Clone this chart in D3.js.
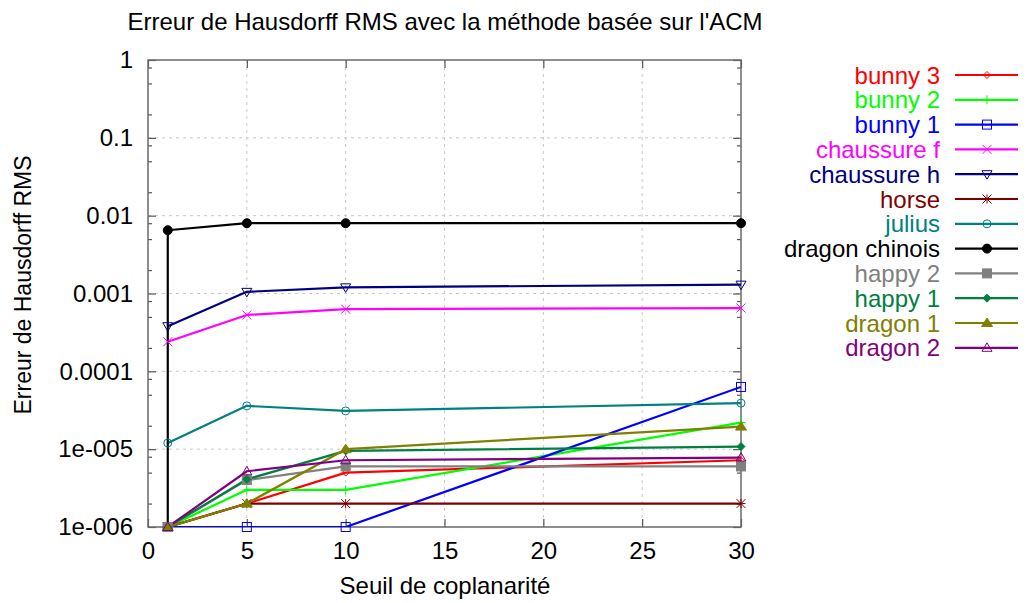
<!DOCTYPE html>
<html>
<head>
<meta charset="utf-8">
<script src="https://cdn.jsdelivr.net/npm/d3@7/dist/d3.min.js"></script>
<style>
  html, body { margin: 0; padding: 0; background: #fff; }
  svg { display: block; font-family: "Liberation Sans", Arial, sans-serif; }
</style>
</head>
<body>
<svg id="chart" width="1027" height="603"></svg>
<script>
// ---- Data ----
const titleText = "Erreur de Hausdorff RMS avec la méthode basée sur l'ACM";
const xLabelText = "Seuil de coplanarité";
const yLabelText = "Erreur de Hausdorff RMS";

const xTicks = [0, 5, 10, 15, 20, 25, 30];
const yTicks = [1, 0.1, 0.01, 0.001, 0.0001, 0.00001, 0.000001];
const yTickLabels = ["1", "0.1", "0.01", "0.001", "0.0001", "1e-005", "1e-006"];

const seuils = [1, 5, 10, 30];
const seuilsDragonChinois = [1, 1, 5, 10, 30];

const seriesNames = ["bunny 3", "bunny 2", "bunny 1", "chaussure f", "chaussure h", "horse",
  "julius", "dragon chinois", "happy 2", "happy 1", "dragon 1", "dragon 2"];

const bunny3 = [1e-6, 2e-6, 5e-6, 7.2e-6];
const bunny2 = [1e-6, 3e-6, 3e-6, 2.2e-5];
const bunny1 = [1e-6, 1e-6, 1e-6, 6.3e-5];
const chaussureF = [2.4e-4, 5.3e-4, 6.3e-4, 6.5e-4];
const chaussureH = [3.8e-4, 1.05e-3, 1.2e-3, 1.3e-3];
const horse = [1e-6, 2e-6, 2e-6, 2e-6];
const julius = [1.2e-5, 3.6e-5, 3.1e-5, 3.9e-5];
const dragonChinois = [1e-6, 6.5e-3, 8e-3, 8e-3, 8e-3];
const happy2 = [1e-6, 4e-6, 6e-6, 6e-6];
const happy1 = [1e-6, 4.1e-6, 9.5e-6, 1.08e-5];
const dragon1 = [1e-6, 2e-6, 1e-5, 1.95e-5];
const dragon2 = [1e-6, 5.2e-6, 7.2e-6, 7.8e-6];

const seriesValues = [bunny3, bunny2, bunny1, chaussureF, chaussureH, horse,
  julius, dragonChinois, happy2, happy1, dragon1, dragon2];
const seriesX = [seuils, seuils, seuils, seuils, seuils, seuils,
  seuils, seuilsDragonChinois, seuils, seuils, seuils, seuils];

// ---- Styles ----
const colors = ["#ff0000", "#00ff00", "#0000ff", "#ff00ff", "#000080", "#800000",
  "#008080", "#000000", "#808080", "#008040", "#808000", "#800080"];
const markers = ["diamond", "plus", "square", "cross", "triDown", "star",
  "circle", "circleFilled", "squareFilled", "diamondFilled", "triUpFilled", "triUp"];

const FONT = 24;
const m = { left: 148, right: 741, top: 60, bottom: 527 };

const svg = d3.select("#chart");

const x = d3.scaleLinear().domain([0, 30]).range([m.left, m.right]);
const y = d3.scaleLog().domain([1e-6, 1]).range([m.bottom, m.top]);

svg.append("defs").append("clipPath").attr("id", "clip")
  .append("rect").attr("x", m.left).attr("y", m.top)
  .attr("width", m.right - m.left).attr("height", m.bottom - m.top);

// grid
const grid = svg.append("g");
xTicks.slice(1, -1).forEach(t => {
  grid.append("line").attr("x1", x(t)).attr("x2", x(t)).attr("y1", m.top).attr("y2", m.bottom)
    .attr("stroke", "#c8c8c8").attr("stroke-width", 1).attr("stroke-dasharray", "3,4");
});
yTicks.slice(1, -1).forEach(t => {
  grid.append("line").attr("x1", m.left).attr("x2", m.right).attr("y1", y(t)).attr("y2", y(t))
    .attr("stroke", "#c8c8c8").attr("stroke-width", 1).attr("stroke-dasharray", "3,4");
});

// axes
const tickColor = "#555";
svg.append("g").attr("transform", `translate(0,${m.bottom})`)
  .call(d3.axisBottom(x).tickValues(xTicks).tickSize(-8).tickPadding(15).tickFormat(d3.format("d")));
svg.append("g").attr("transform", `translate(0,${m.top})`)
  .call(d3.axisTop(x).tickValues(xTicks).tickSize(-8).tickFormat(""));
svg.append("g").attr("transform", `translate(${m.left},0)`)
  .call(d3.axisLeft(y).tickValues(yTicks).tickSize(-8).tickPadding(15)
    .tickFormat((d, i) => yTickLabels[i]));
svg.append("g").attr("transform", `translate(${m.right},0)`)
  .call(d3.axisRight(y).tickValues(yTicks).tickSize(-8).tickFormat(""));

// minor ticks (2, 5, 8 per decade)
const minor = [];
for (let e = -6; e < 0; e++) [2, 5, 8].forEach(k => minor.push(k * Math.pow(10, e)));
svg.append("g").attr("transform", `translate(${m.left},0)`)
  .call(d3.axisLeft(y).tickValues(minor).tickSize(-4).tickFormat(""));
svg.append("g").attr("transform", `translate(${m.right},0)`)
  .call(d3.axisRight(y).tickValues(minor).tickSize(-4).tickFormat(""));

svg.selectAll(".domain").remove();
svg.selectAll(".tick line").attr("stroke", tickColor).attr("stroke-width", 1.2);
svg.selectAll(".tick text").attr("font-size", FONT).attr("fill", "#000")
  .attr("font-family", "'Liberation Sans', Arial, sans-serif");

// frame
svg.append("rect").attr("x", m.left).attr("y", m.top)
  .attr("width", m.right - m.left).attr("height", m.bottom - m.top)
  .attr("fill", "none").attr("stroke", "#6a6a6a").attr("stroke-width", 1.5);

function drawMarker(g, type, cx, cy, color) {
  const s = 4.5;
  switch (type) {
    case "diamond":
      g.append("path").attr("d", `M${cx},${cy - 3.5}L${cx + 3.5},${cy}L${cx},${cy + 3.5}L${cx - 3.5},${cy}Z`)
        .attr("fill", "none").attr("stroke", color).attr("stroke-width", 1); break;
    case "diamondFilled":
      g.append("path").attr("d", `M${cx},${cy - 4}L${cx + 4},${cy}L${cx},${cy + 4}L${cx - 4},${cy}Z`)
        .attr("fill", color).attr("stroke", color).attr("stroke-width", 1); break;
    case "plus":
      g.append("path").attr("d", `M${cx - s},${cy}H${cx + s}M${cx},${cy - s}V${cy + s}`)
        .attr("stroke", color).attr("stroke-width", 1); break;
    case "cross":
      g.append("path").attr("d", `M${cx - s},${cy - s}L${cx + s},${cy + s}M${cx - s},${cy + s}L${cx + s},${cy - s}`)
        .attr("stroke", color).attr("stroke-width", 1); break;
    case "star":
      g.append("path").attr("d", `M${cx - s},${cy - s}L${cx + s},${cy + s}M${cx - s},${cy + s}L${cx + s},${cy - s}M${cx - s},${cy}H${cx + s}M${cx},${cy - s}V${cy + s}`)
        .attr("stroke", color).attr("stroke-width", 1); break;
    case "square":
      g.append("rect").attr("x", cx - s).attr("y", cy - s).attr("width", 2 * s).attr("height", 2 * s)
        .attr("fill", "none").attr("stroke", color).attr("stroke-width", 1); break;
    case "squareFilled":
      g.append("rect").attr("x", cx - s).attr("y", cy - s).attr("width", 2 * s).attr("height", 2 * s)
        .attr("fill", color).attr("stroke", color).attr("stroke-width", 1); break;
    case "circle":
      g.append("circle").attr("cx", cx).attr("cy", cy).attr("r", 4)
        .attr("fill", "none").attr("stroke", color).attr("stroke-width", 1); break;
    case "circleFilled":
      g.append("circle").attr("cx", cx).attr("cy", cy).attr("r", 4.5)
        .attr("fill", color).attr("stroke", color).attr("stroke-width", 1); break;
    case "triUp":
      g.append("path").attr("d", `M${cx},${cy - 5}L${cx + 5},${cy + 3.5}L${cx - 5},${cy + 3.5}Z`)
        .attr("fill", "none").attr("stroke", color).attr("stroke-width", 1); break;
    case "triUpFilled":
      g.append("path").attr("d", `M${cx},${cy - 5}L${cx + 5.5},${cy + 3.5}L${cx - 5.5},${cy + 3.5}Z`)
        .attr("fill", color).attr("stroke", color).attr("stroke-width", 1); break;
    case "triDown":
      g.append("path").attr("d", `M${cx},${cy + 5}L${cx + 5},${cy - 3.5}L${cx - 5},${cy - 3.5}Z`)
        .attr("fill", "none").attr("stroke", color).attr("stroke-width", 1); break;
  }
}

// series
const plotG = svg.append("g").attr("clip-path", "url(#clip)");
const line = d3.line().x(d => x(d[0])).y(d => y(d[1]));
seriesValues.forEach((vals, i) => {
  const pts = vals.map((v, j) => [seriesX[i][j], v]);
  plotG.append("path").datum(pts).attr("d", line)
    .attr("fill", "none").attr("stroke", colors[i]).attr("stroke-width", 2.2)
    .attr("stroke-linejoin", "round");
  pts.forEach(p => drawMarker(svg.append("g"), markers[i], x(p[0]), y(p[1]), colors[i]));
});

// legend
const legendY0 = 75, legendDy = 24.8;
seriesNames.forEach((name, i) => {
  const ly = legendY0 + i * legendDy;
  svg.append("text").attr("x", 940).attr("y", ly).attr("dy", "0.36em")
    .attr("text-anchor", "end").attr("font-size", FONT).attr("fill", colors[i]).text(name);
  svg.append("line").attr("x1", 955).attr("x2", 1018).attr("y1", ly).attr("y2", ly)
    .attr("stroke", colors[i]).attr("stroke-width", 2.2);
  drawMarker(svg.append("g"), markers[i], 987, ly, colors[i]);
});

// titles
svg.append("text").attr("x", 445).attr("y", 30).attr("text-anchor", "middle")
  .attr("font-size", FONT).text(titleText);
svg.append("text").attr("x", 445).attr("y", 594).attr("text-anchor", "middle")
  .attr("font-size", FONT).text(xLabelText);
svg.append("text").attr("transform", `translate(31,285) rotate(-90)`).attr("text-anchor", "middle")
  .attr("font-size", 23).text(yLabelText);
</script>
</body>
</html>
